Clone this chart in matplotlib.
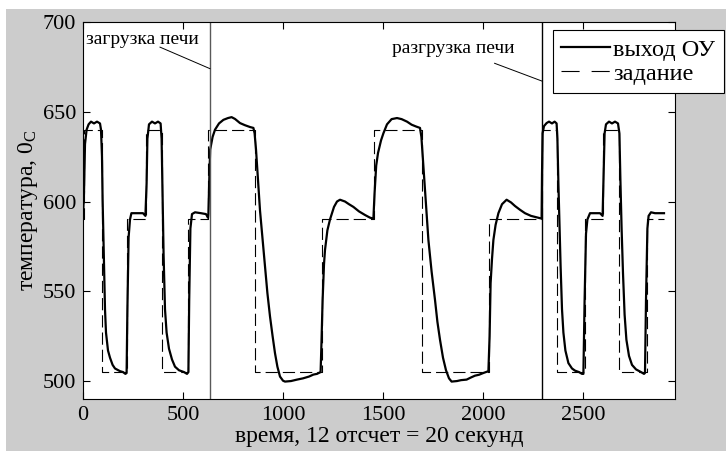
import matplotlib
matplotlib.use("Agg")
import matplotlib.pyplot as plt
from matplotlib.lines import Line2D
from matplotlib.patches import Rectangle

# ----------------------------- Data -----------------------------
# output of the plant (выход ОУ)
out_t = [0, 5, 10, 18, 28, 40, 55, 70, 85, 90, 95, 98, 105, 110, 115, 125, 135, 148, 160, 185, 200, 212, 218,
         222, 228, 235, 242, 270, 300, 312, 318, 322, 330, 345, 360, 375, 388, 393, 397, 403, 410, 418, 430,
         445, 460, 480, 505, 520, 527, 531, 537, 545, 560, 590, 615, 625,
         627, 632, 636, 648, 660, 680, 702, 725, 743, 760, 785, 810, 835, 852, 858, 865, 875, 885, 897, 910,
         922, 935, 948, 960, 972, 985, 1000, 1010, 1040, 1070, 1100, 1130, 1152, 1170, 1188, 1192, 1198,
         1205, 1210, 1222, 1235, 1255, 1270, 1285, 1310, 1330, 1352, 1380, 1410, 1435, 1452,
         1458, 1466, 1475, 1490, 1502, 1520, 1543, 1570, 1593, 1620, 1643, 1665, 1685, 1692, 1702, 1715,
         1727, 1743, 1760, 1772, 1785, 1800, 1815, 1830, 1843, 1870, 1890, 1918, 1940, 1960, 1980, 2002,
         2027, 2033, 2038, 2045, 2052, 2063, 2077, 2095, 2118, 2140, 2160, 2185, 2210, 2240, 2265, 2285, 2293,
         2295, 2298, 2305, 2318, 2330, 2345, 2358, 2368, 2372, 2377, 2383, 2388, 2395, 2402, 2412, 2427,
         2445, 2460, 2480, 2495, 2502, 2508, 2515, 2522, 2535, 2560, 2585, 2598, 2603, 2608, 2615, 2630,
         2645, 2660, 2675, 2682, 2687, 2693, 2700, 2708, 2717, 2730, 2745, 2765, 2790, 2805, 2810, 2815,
         2822, 2828, 2840, 2860, 2880, 2905]
out_y = [591, 605, 632, 640, 643, 644.5, 643.5, 644.5, 643.5, 640, 625, 601, 564, 540, 527, 517, 513, 509, 507,
         505.5, 505, 504, 504.5,
         540, 580, 590, 593.5, 593.5, 593.5, 592, 610, 635, 643, 644.5, 643.5, 644.5, 643.5, 635, 610, 570,
         540, 527, 518, 512, 508, 506, 505, 504, 505, 545, 585, 593, 594, 593.5, 593, 591,
         593, 615, 629, 636, 640, 643.5, 645.5, 646.5, 647, 646, 643.7, 642.5, 641.5, 641, 638, 629, 612, 595,
         580, 564, 549, 536, 525, 515.5, 508, 502.5, 500.2, 499.7, 500, 500.8, 501.5, 502.5, 503.6, 504, 505,
         520, 545, 565, 573, 584, 590, 597, 600, 601, 600, 598.5, 597, 594.5, 592.5, 591, 590.5,
         605, 620, 627, 634, 638, 643, 645.9, 646.5, 645.9, 644.5, 642.8, 641.8, 641, 636, 619.5, 598,
         578.6, 561, 545.2, 533, 523, 513, 506, 501.5, 499.7, 500, 500.5, 500.8, 502, 503, 503.5, 504.5,
         505.5, 525, 554.5, 568, 578.6, 587, 593.5, 598.5, 601, 599.5, 597.5, 595.4, 593.5, 592, 591.3,
         590.8, 590.5,
         615, 638, 642, 643.7, 644.5, 643.5, 644.5, 643.5, 635, 610, 585, 564, 540, 527, 517, 510,
         507, 505.8, 505, 504, 504, 545, 582, 590, 593.5, 593.5, 593.5, 592, 615, 638, 643, 644.5,
         643.5, 644.5, 643.5, 638, 612, 585, 560, 537, 523, 514, 509, 506.5, 505, 504, 504.5, 545,
         585, 592, 594, 593.5, 593.5, 593.5]

# setpoint (задание), step changes
sp_t = [0, 5, 93, 218, 313, 393, 527, 625, 860, 1193, 1455, 1693, 2030, 2297, 2372, 2510, 2602, 2682, 2822, 2905]
sp_v = [590, 640, 505, 590, 640, 505, 590, 640, 505, 590, 640, 505, 590, 640, 505, 590, 640, 505, 590, 590]

# furnace load / unload moments
load_t = 635
unload_t = 2297

# ----------------------------- Style -----------------------------
plt.rcParams.update({
    "font.family": ["Liberation Serif", "DejaVu Serif"],
    "mathtext.fontset": "custom",
    "mathtext.rm": "Liberation Serif",
    "mathtext.it": "Liberation Serif:italic",
    "font.size": 16,
})

fig = plt.figure(figsize=(7.26, 4.51), dpi=100, facecolor="white")
fig.patches.append(Rectangle((6 / 726, 0), 1, 1 - 9 / 451, transform=fig.transFigure,
                             facecolor="#cccccc", edgecolor="none", zorder=-10))
ax = fig.add_axes([83 / 726, 1 - 399 / 451, (675 - 83) / 726, (399 - 22) / 451])

ax.plot(out_t, out_y, color="black", lw=1.6, solid_joinstyle="round")
ax.plot(sp_t, sp_v, color="black", lw=0.8, drawstyle="steps-post", dashes=(11, 4.5))

ax.axvline(load_t, color="0.35", lw=1.0)
ax.axvline(unload_t, color="black", lw=1.0)

ax.text(15, 690, "загрузка печи", ha="left", va="center", fontsize=14)
ax.plot([385, load_t], [686, 674], color="black", lw=0.7)
ax.text(1850, 685.5, "разгрузка печи", ha="center", va="center", fontsize=14)
ax.plot([2058, unload_t], [677, 667], color="black", lw=0.7)

ax.set_xlim(0, 2960)
ax.set_ylim(490, 700)
ax.set_xticks([0, 500, 1000, 1500, 2000, 2500])
ax.set_yticks([500, 550, 600, 650, 700])
ax.tick_params(direction="in", top=True, right=True, length=5, width=0.8, labelsize=16)
ax.tick_params(axis="x", pad=5)
ax.tick_params(axis="y", pad=5)
for s in ax.spines.values():
    s.set_linewidth(0.8)

ax.set_xlabel("время, 12 отсчет = 20 секунд", fontsize=17)
ax.xaxis.set_label_coords(0.5, -0.072)
ax.xaxis.label.set_va("top")
ax.set_ylabel("температура, 0$_\\mathrm{C}$", fontsize=17)
ax.yaxis.set_label_coords(-0.073, 0.5)

handles = [Line2D([], [], color="black", lw=1.6),
           Line2D([], [], color="black", lw=0.8, dashes=(16.3, 10.8))]
leg = ax.legend(handles, ["выход ОУ", "задание"], loc="upper right",
                bbox_to_anchor=(724 / 726, 1 - 30 / 451), bbox_transform=fig.transFigure,
                borderaxespad=0, fancybox=False, framealpha=1, edgecolor="black",
                fontsize=17.5, handlelength=2.0, handletextpad=0.15, borderpad=0.35,
                labelspacing=0.1)
leg.get_frame().set_linewidth(0.8)

fig.savefig("out.png", dpi=100, facecolor=fig.get_facecolor())
